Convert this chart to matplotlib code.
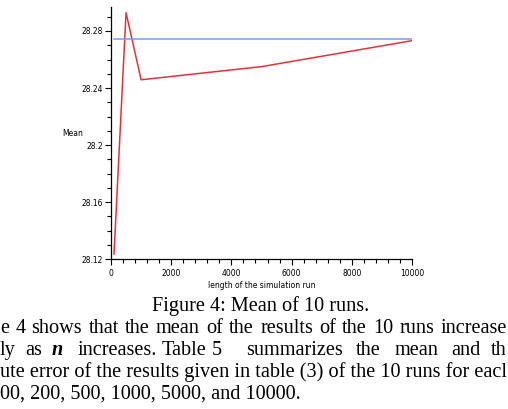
import numpy as np
import matplotlib
matplotlib.use('Agg')
from matplotlib import pyplot as plt
from matplotlib.ticker import MultipleLocator

# data
run_length = [100, 200, 500, 1000, 5000, 10000]
mean_10_runs = [28.1237, 28.166, 28.2928, 28.2458, 28.2550, 28.2732]
ref_x = [100, 10000]
ref_mean = [28.2744, 28.2744]

yticks = [28.12, 28.16, 28.2, 28.24, 28.28]
ytick_labels = ['28.12', '28.16', '28.2', '28.24', '28.28']
xticks = [0, 2000, 4000, 6000, 8000, 10000]

caption = 'Figure 4: Mean of 10 runs.'
para_line1 = 'e 4 shows that the mean of the results of the 10 runs increase'
para_line2 = ['ly', 'as', 'n', 'increases.', 'Table', '5', 'summarizes', 'the', 'mean', 'and', 'th']
para_line2_x = [0, 25, 52, 78, 162, 212, 246, 356, 395, 451, 491]
para_line3 = 'ute error of the results given in table (3) of the 10 runs for eacl'
para_line4 = '00, 200, 500, 1000, 5000, and 10000.'

W, H = 508, 409
fig = plt.figure(figsize=(W / 100, H / 100), dpi=100)
ax = fig.add_axes([111 / W, 1 - 259.3 / H, (412 - 111) / W, (259.3 - 6.7) / H])

ax.plot(run_length, mean_10_runs, color='#e8303a', lw=1.1)
ax.plot(ref_x, ref_mean, color='#6f9ff0', lw=1.1)

ax.set_xlim(0, 10000)
ax.set_ylim(28.12, 28.297)
ax.set_xticks(xticks)
ax.xaxis.set_minor_locator(MultipleLocator(400))
ax.set_yticks(yticks)
ax.set_yticklabels(ytick_labels)
ax.yaxis.set_minor_locator(MultipleLocator(0.01))

for s in ['top', 'right']:
    ax.spines[s].set_visible(False)
for s in ['left', 'bottom']:
    ax.spines[s].set_linewidth(0.9)
ax.tick_params(which='major', length=4, width=0.8, labelsize=5.5, pad=2, colors='black')
ax.tick_params(which='minor', length=3, width=0.8)
ax.tick_params(axis='x', pad=3)

fig.text(73 / W, 1 - 134 / H, 'Mean', fontsize=5.5, ha='center', va='center')
fig.text(262 / W, 1 - 286 / H, 'length of the simulation run', fontsize=5.5, ha='center', va='center')

serif = dict(family='Liberation Serif', fontsize=14.6, va='baseline')
fig.text(261 / W, 1 - 311 / H, caption, ha='center', **serif)

# first paragraph line is justified: spread the words out to the right edge
renderer = fig.canvas.get_renderer()
words = para_line1.split(' ')
texts = [fig.text(0, 1 - 333 / H, w, ha='left', **serif) for w in words]
widths = [t.get_window_extent(renderer).width for t in texts]
gap = (507 - sum(widths)) / (len(words) - 1)
x = 0
for t, w in zip(texts, widths):
    t.set_x(x / W)
    x += w + gap

for word, x in zip(para_line2, para_line2_x):
    if word == 'n':
        fig.text(x / W, 1 - 355 / H, word, ha='left', weight='bold', style='italic', **serif)
    else:
        fig.text(x / W, 1 - 355 / H, word, ha='left', **serif)
fig.text(0, 1 - 377 / H, para_line3, ha='left', **serif)
fig.text(0, 1 - 399 / H, para_line4, ha='left', **serif)

plt.savefig('out.png', dpi=100)
plt.close()
